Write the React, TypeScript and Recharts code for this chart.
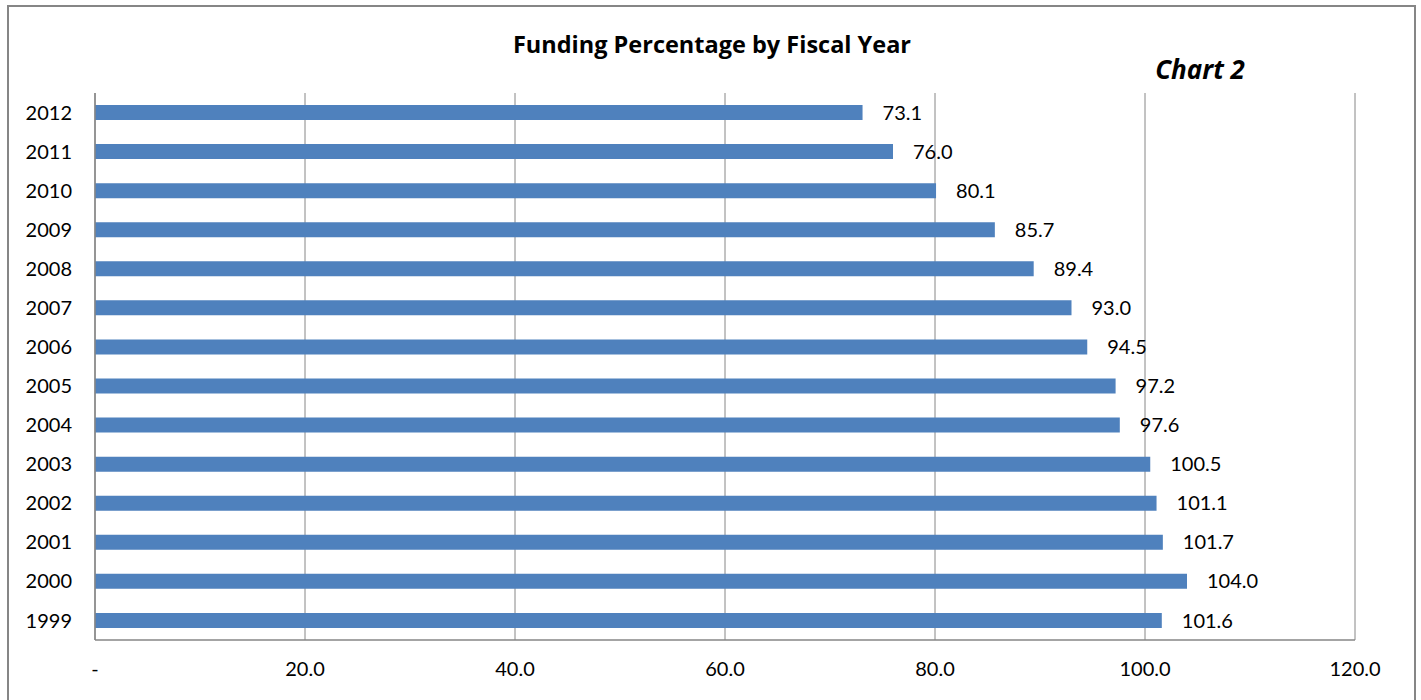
import React from "react";
import { BarChart, Bar, XAxis, YAxis, CartesianGrid, LabelList } from "recharts";

const years = ["1999", "2000", "2001", "2002", "2003", "2004", "2005", "2006", "2007", "2008", "2009", "2010", "2011", "2012"];
const fundingPct = [101.6, 104.0, 101.7, 101.1, 100.5, 97.6, 97.2, 94.5, 93.0, 89.4, 85.7, 80.1, 76.0, 73.1];
const xTicks = [0, 20, 40, 60, 80, 100, 120];
const title = "Funding Percentage by Fiscal Year";
const chartLabel = "Chart 2";

const data = years.map((y, i) => ({ year: y, value: fundingPct[i] }));

const FONT = "Lato, 'Open Sans', sans-serif";
const TITLE_FONT = "'Open Sans', Lato, sans-serif";
const GRID = "#868686";

export default function App() {
  return (
    <div
      style={{
        position: "absolute",
        left: 7,
        top: 5,
        width: 1405,
        height: 696,
        border: `2px solid ${GRID}`,
        background: "#fff",
      }}
    >
      <BarChart
        width={1405}
        height={696}
        data={data}
        layout="vertical"
        margin={{ top: 86, right: 59, bottom: 23, left: 0 }}
        style={{ fontFamily: FONT }}
      >
        <text x={703} y={37} textAnchor="middle" dominantBaseline="central" fontFamily={TITLE_FONT} fontWeight="bold" fontSize={23.5} fill="#000">
          {title}
        </text>
        <text x={1191} y={62} textAnchor="middle" dominantBaseline="central" fontFamily={TITLE_FONT} fontWeight="bold" fontStyle="italic" fontSize={26} fill="#000">
          {chartLabel}
        </text>
        <CartesianGrid horizontal={false} vertical={true} stroke={GRID} strokeWidth={1} />
        <XAxis
          type="number"
          domain={[0, 120]}
          ticks={xTicks}
          interval={0}
          height={40}
          tickSize={0}
          tickMargin={22}
          axisLine={{ stroke: GRID, strokeWidth: 1.5 }}
          tickLine={false}
          tick={{ fill: "#000", fontSize: 20, fontFamily: FONT }}
          tickFormatter={(v: number) => (v === 0 ? "-" : v.toFixed(1))}
        />
        <YAxis
          type="category"
          dataKey="year"
          reversed
          width={86}
          tickSize={0}
          tickMargin={23}
          interval={0}
          axisLine={{ stroke: GRID, strokeWidth: 1.5 }}
          tickLine={false}
          tick={{ fill: "#000", fontSize: 20, fontFamily: FONT }}
        />
        <Bar dataKey="value" fill="#4F81BD" barSize={15} isAnimationActive={false}>
          <LabelList
            dataKey="value"
            position="right"
            offset={20}
            fill="#000"
            fontSize={20}
            fontFamily={FONT}
            formatter={(v: number) => Number(v).toFixed(1)}
          />
        </Bar>
      </BarChart>
    </div>
  );
}
